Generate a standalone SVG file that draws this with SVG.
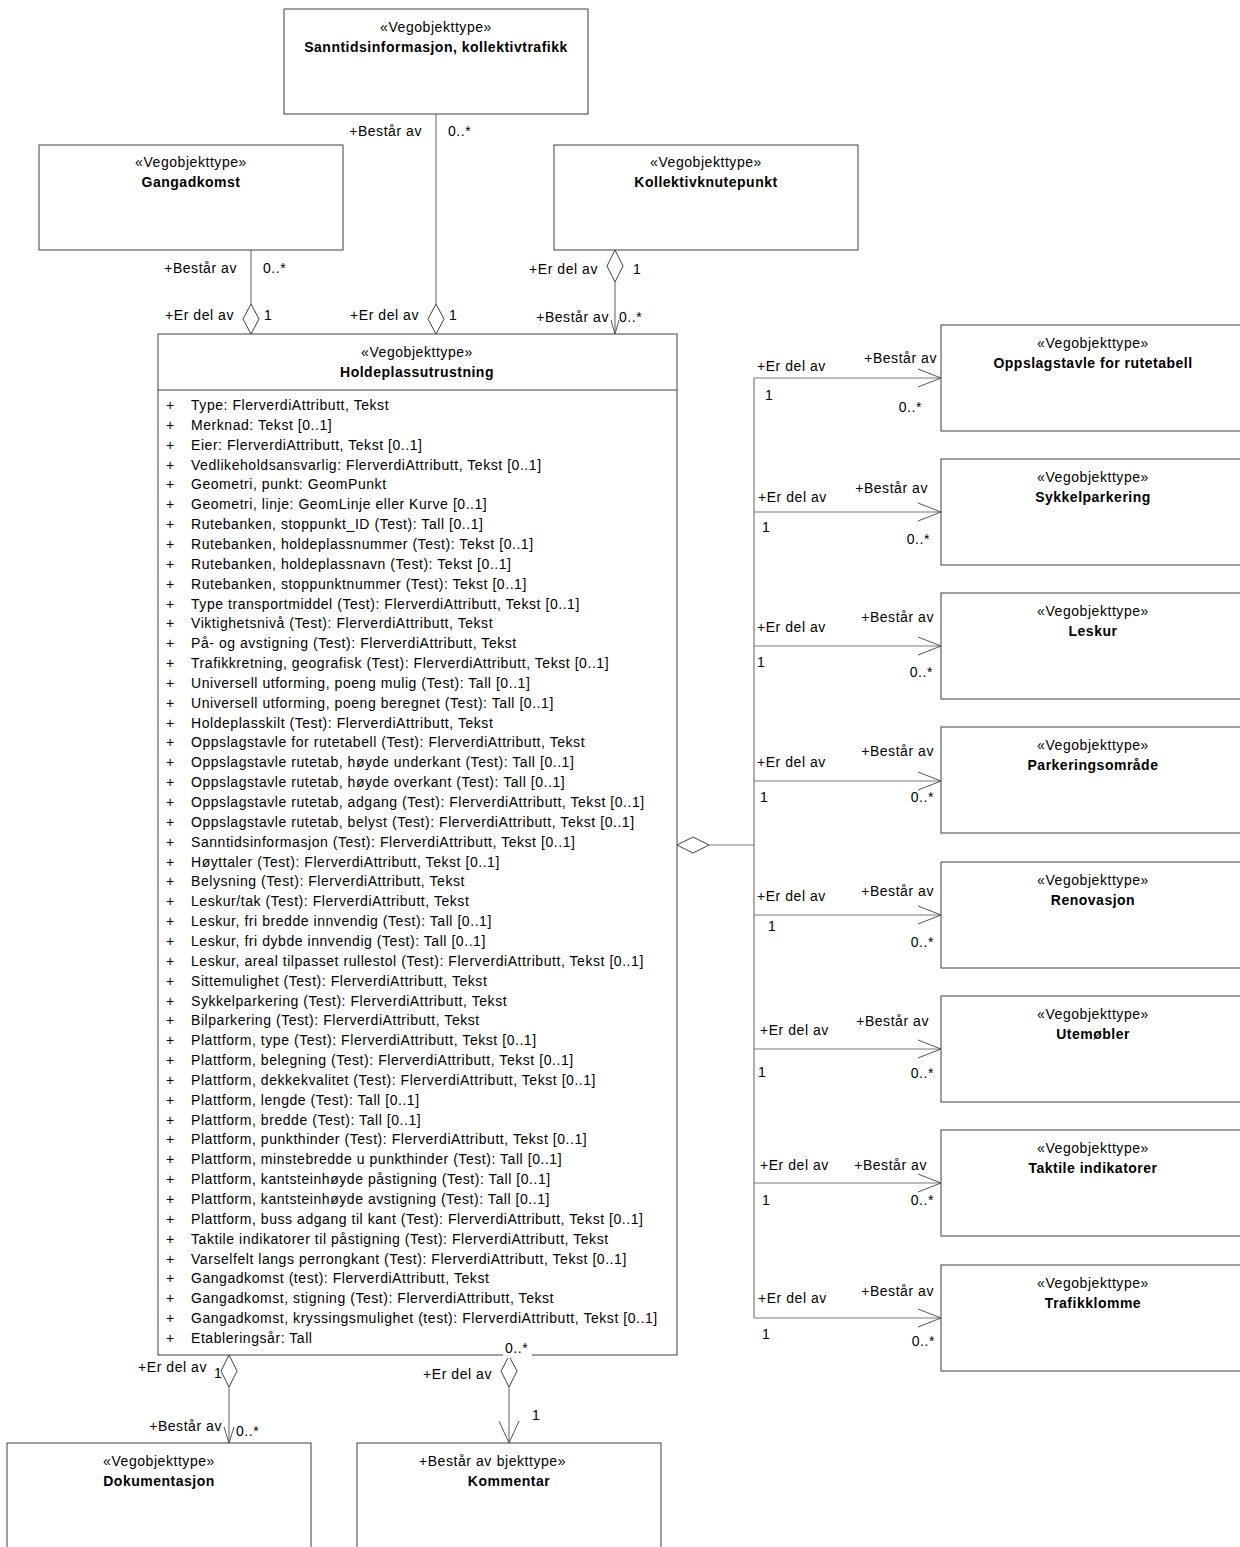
<svg xmlns="http://www.w3.org/2000/svg" width="1240" height="1547" viewBox="0 0 1240 1547">
<defs>
<style>
text{font-family:"Liberation Sans",Arial,sans-serif;font-size:14px;fill:#000;letter-spacing:0.55px}
.st{text-anchor:middle}
.nm{text-anchor:middle;font-weight:bold;letter-spacing:0.5px}
.e{text-anchor:end}
.box{fill:#fff;stroke:#404040;stroke-width:1}
.ln{fill:none;stroke:#7a7a7a;stroke-width:1.2}
.dia{fill:#fff;stroke:#404040;stroke-width:1}
.arr{fill:none;stroke:#555;stroke-width:1}
</style>
</defs>
<rect width="1240" height="1547" fill="#fff"/>

<g id="connectors">
  <line class="ln" x1="436" y1="114" x2="436" y2="304"/>
  <polygon class="dia" points="436,304 444,319 436,334 428,319"/>
  <text class="e" x="422" y="136">+Består av</text>
  <text x="448" y="136">0..*</text>
  <text class="e" x="419" y="320">+Er del av</text>
  <text x="449" y="320">1</text>

  <line class="ln" x1="251" y1="250" x2="251" y2="304"/>
  <polygon class="dia" points="251,304 259,319 251,334 243,319"/>
  <text class="e" x="237" y="273">+Består av</text>
  <text x="263" y="273">0..*</text>
  <text class="e" x="234" y="320">+Er del av</text>
  <text x="264" y="320">1</text>

  <polygon class="dia" points="615,250 623,266 615,282 607,266"/>
  <line class="ln" x1="615" y1="282" x2="615" y2="334"/>
  <polyline class="arr" points="611,320 615,334 619,320"/>
  <text class="e" x="598" y="274">+Er del av</text>
  <text x="633" y="274">1</text>
  <text class="e" x="609" y="322">+Består av</text>
  <text x="619" y="322">0..*</text>

  <polygon class="dia" points="677,845 693,837 709,845 693,853"/>
  <line class="ln" x1="709" y1="845" x2="754" y2="845"/>
  <line class="ln" x1="754" y1="378" x2="754" y2="1318"/>
  <line class="ln" x1="754" y1="378" x2="941" y2="378"/>
  <line class="ln" x1="754" y1="512" x2="941" y2="512"/>
  <line class="ln" x1="754" y1="646" x2="941" y2="646"/>
  <line class="ln" x1="754" y1="781" x2="941" y2="781"/>
  <line class="ln" x1="754" y1="915" x2="941" y2="915"/>
  <line class="ln" x1="754" y1="1049" x2="941" y2="1049"/>
  <line class="ln" x1="754" y1="1183" x2="941" y2="1183"/>
  <line class="ln" x1="754" y1="1318" x2="941" y2="1318"/>
  <polyline class="arr" points="918,369 941,378 918,387"/>
  <polyline class="arr" points="918,503 941,512 918,521"/>
  <polyline class="arr" points="918,637 941,646 918,655"/>
  <polyline class="arr" points="918,772 941,781 918,790"/>
  <polyline class="arr" points="918,906 941,915 918,924"/>
  <polyline class="arr" points="918,1040 941,1049 918,1058"/>
  <polyline class="arr" points="918,1174 941,1183 918,1192"/>
  <polyline class="arr" points="918,1309 941,1318 918,1327"/>

  <text x="757" y="371">+Er del av</text>
  <text class="e" x="937" y="363">+Består av</text>
  <text x="765" y="400">1</text>
  <text class="e" x="922" y="412">0..*</text>

  <text x="758" y="502">+Er del av</text>
  <text class="e" x="928" y="493">+Består av</text>
  <text x="762" y="532">1</text>
  <text class="e" x="930" y="544">0..*</text>

  <text x="757" y="632">+Er del av</text>
  <text class="e" x="934" y="622">+Består av</text>
  <text x="757" y="667">1</text>
  <text class="e" x="933" y="677">0..*</text>

  <text x="757" y="767">+Er del av</text>
  <text class="e" x="934" y="756">+Består av</text>
  <text x="760" y="802">1</text>
  <text class="e" x="934" y="802">0..*</text>

  <text x="757" y="901">+Er del av</text>
  <text class="e" x="934" y="896">+Består av</text>
  <text x="768" y="931">1</text>
  <text class="e" x="934" y="947">0..*</text>

  <text x="760" y="1035">+Er del av</text>
  <text class="e" x="929" y="1026">+Består av</text>
  <text x="758" y="1077">1</text>
  <text class="e" x="934" y="1078">0..*</text>

  <text x="760" y="1170">+Er del av</text>
  <text class="e" x="927" y="1170">+Består av</text>
  <text x="762" y="1205">1</text>
  <text class="e" x="934" y="1205">0..*</text>

  <text x="758" y="1303">+Er del av</text>
  <text class="e" x="934" y="1296">+Består av</text>
  <text x="762" y="1339">1</text>
  <text class="e" x="935" y="1346">0..*</text>

  <polygon class="dia" points="229,1355 237,1371 229,1387 221,1371"/>
  <line class="ln" x1="229" y1="1387" x2="229" y2="1443"/>
  <polyline class="arr" points="224,1427 229,1443 234,1427"/>
  <text class="e" x="207" y="1372">+Er del av</text>
  <text x="214" y="1378">1</text>
  <text class="e" x="222" y="1431">+Består av</text>
  <text x="236" y="1436">0..*</text>

  <polygon class="dia" points="509,1356 517,1371 509,1387 501,1371"/>
  <line class="ln" x1="509" y1="1387" x2="509" y2="1443"/>
  <polyline class="arr" points="499,1421 509,1443 519,1421"/>
  <text class="e" x="492" y="1379">+Er del av</text>
  <text x="532" y="1420">1</text>
</g>

<g id="sanntid">
  <rect class="box" x="284" y="9" width="304" height="105"/>
  <text class="st" x="436" y="32">«Vegobjekttype»</text>
  <text class="nm" x="436" y="52">Sanntidsinformasjon, kollektivtrafikk</text>
</g>

<g id="gangadkomst">
  <rect class="box" x="39" y="145" width="304" height="105"/>
  <text class="st" x="191" y="167">«Vegobjekttype»</text>
  <text class="nm" x="191" y="187">Gangadkomst</text>
</g>

<g id="kollektivknutepunkt">
  <rect class="box" x="554" y="145" width="304" height="105"/>
  <text class="st" x="706" y="167">«Vegobjekttype»</text>
  <text class="nm" x="706" y="187">Kollektivknutepunkt</text>
</g>

<g id="holdeplassutrustning">
  <rect class="box" x="158" y="334" width="519" height="1021"/>
  <line x1="158" y1="390" x2="677" y2="390" stroke="#404040" stroke-width="1"/>
  <text class="st" x="417" y="357">«Vegobjekttype»</text>
  <text class="nm" x="417" y="377">Holdeplassutrustning</text>
  <text x="166" y="410">+<tspan x="166" dy="19.85">+</tspan><tspan x="166" dy="19.85">+</tspan><tspan x="166" dy="19.85">+</tspan><tspan x="166" dy="19.85">+</tspan><tspan x="166" dy="19.85">+</tspan><tspan x="166" dy="19.85">+</tspan><tspan x="166" dy="19.85">+</tspan><tspan x="166" dy="19.85">+</tspan><tspan x="166" dy="19.85">+</tspan><tspan x="166" dy="19.85">+</tspan><tspan x="166" dy="19.85">+</tspan><tspan x="166" dy="19.85">+</tspan><tspan x="166" dy="19.85">+</tspan><tspan x="166" dy="19.85">+</tspan><tspan x="166" dy="19.85">+</tspan><tspan x="166" dy="19.85">+</tspan><tspan x="166" dy="19.85">+</tspan><tspan x="166" dy="19.85">+</tspan><tspan x="166" dy="19.85">+</tspan><tspan x="166" dy="19.85">+</tspan><tspan x="166" dy="19.85">+</tspan><tspan x="166" dy="19.85">+</tspan><tspan x="166" dy="19.85">+</tspan><tspan x="166" dy="19.85">+</tspan><tspan x="166" dy="19.85">+</tspan><tspan x="166" dy="19.85">+</tspan><tspan x="166" dy="19.85">+</tspan><tspan x="166" dy="19.85">+</tspan><tspan x="166" dy="19.85">+</tspan><tspan x="166" dy="19.85">+</tspan><tspan x="166" dy="19.85">+</tspan><tspan x="166" dy="19.85">+</tspan><tspan x="166" dy="19.85">+</tspan><tspan x="166" dy="19.85">+</tspan><tspan x="166" dy="19.85">+</tspan><tspan x="166" dy="19.85">+</tspan><tspan x="166" dy="19.85">+</tspan><tspan x="166" dy="19.85">+</tspan><tspan x="166" dy="19.85">+</tspan><tspan x="166" dy="19.85">+</tspan><tspan x="166" dy="19.85">+</tspan><tspan x="166" dy="19.85">+</tspan><tspan x="166" dy="19.85">+</tspan><tspan x="166" dy="19.85">+</tspan><tspan x="166" dy="19.85">+</tspan><tspan x="166" dy="19.85">+</tspan><tspan x="166" dy="19.85">+</tspan></text>
  <text x="191" y="410">Type: FlerverdiAttributt, Tekst<tspan x="191" dy="19.85">Merknad: Tekst [0..1]</tspan><tspan x="191" dy="19.85">Eier: FlerverdiAttributt, Tekst [0..1]</tspan><tspan x="191" dy="19.85">Vedlikeholdsansvarlig: FlerverdiAttributt, Tekst [0..1]</tspan><tspan x="191" dy="19.85">Geometri, punkt: GeomPunkt</tspan><tspan x="191" dy="19.85">Geometri, linje: GeomLinje eller Kurve [0..1]</tspan><tspan x="191" dy="19.85">Rutebanken, stoppunkt_ID (Test): Tall [0..1]</tspan><tspan x="191" dy="19.85">Rutebanken, holdeplassnummer (Test): Tekst [0..1]</tspan><tspan x="191" dy="19.85">Rutebanken, holdeplassnavn (Test): Tekst [0..1]</tspan><tspan x="191" dy="19.85">Rutebanken, stoppunktnummer (Test): Tekst [0..1]</tspan><tspan x="191" dy="19.85">Type transportmiddel (Test): FlerverdiAttributt, Tekst [0..1]</tspan><tspan x="191" dy="19.85">Viktighetsnivå (Test): FlerverdiAttributt, Tekst</tspan><tspan x="191" dy="19.85">På- og avstigning (Test): FlerverdiAttributt, Tekst</tspan><tspan x="191" dy="19.85">Trafikkretning, geografisk (Test): FlerverdiAttributt, Tekst [0..1]</tspan><tspan x="191" dy="19.85">Universell utforming, poeng mulig (Test): Tall [0..1]</tspan><tspan x="191" dy="19.85">Universell utforming, poeng beregnet (Test): Tall [0..1]</tspan><tspan x="191" dy="19.85">Holdeplasskilt (Test): FlerverdiAttributt, Tekst</tspan><tspan x="191" dy="19.85">Oppslagstavle for rutetabell (Test): FlerverdiAttributt, Tekst</tspan><tspan x="191" dy="19.85">Oppslagstavle rutetab, høyde underkant (Test): Tall [0..1]</tspan><tspan x="191" dy="19.85">Oppslagstavle rutetab, høyde overkant (Test): Tall [0..1]</tspan><tspan x="191" dy="19.85">Oppslagstavle rutetab, adgang (Test): FlerverdiAttributt, Tekst [0..1]</tspan><tspan x="191" dy="19.85">Oppslagstavle rutetab, belyst (Test): FlerverdiAttributt, Tekst [0..1]</tspan><tspan x="191" dy="19.85">Sanntidsinformasjon (Test): FlerverdiAttributt, Tekst [0..1]</tspan><tspan x="191" dy="19.85">Høyttaler (Test): FlerverdiAttributt, Tekst [0..1]</tspan><tspan x="191" dy="19.85">Belysning (Test): FlerverdiAttributt, Tekst</tspan><tspan x="191" dy="19.85">Leskur/tak (Test): FlerverdiAttributt, Tekst</tspan><tspan x="191" dy="19.85">Leskur, fri bredde innvendig (Test): Tall [0..1]</tspan><tspan x="191" dy="19.85">Leskur, fri dybde innvendig (Test): Tall [0..1]</tspan><tspan x="191" dy="19.85">Leskur, areal tilpasset rullestol (Test): FlerverdiAttributt, Tekst [0..1]</tspan><tspan x="191" dy="19.85">Sittemulighet (Test): FlerverdiAttributt, Tekst</tspan><tspan x="191" dy="19.85">Sykkelparkering (Test): FlerverdiAttributt, Tekst</tspan><tspan x="191" dy="19.85">Bilparkering (Test): FlerverdiAttributt, Tekst</tspan><tspan x="191" dy="19.85">Plattform, type (Test): FlerverdiAttributt, Tekst [0..1]</tspan><tspan x="191" dy="19.85">Plattform, belegning (Test): FlerverdiAttributt, Tekst [0..1]</tspan><tspan x="191" dy="19.85">Plattform, dekkekvalitet (Test): FlerverdiAttributt, Tekst [0..1]</tspan><tspan x="191" dy="19.85">Plattform, lengde (Test): Tall [0..1]</tspan><tspan x="191" dy="19.85">Plattform, bredde (Test): Tall [0..1]</tspan><tspan x="191" dy="19.85">Plattform, punkthinder (Test): FlerverdiAttributt, Tekst [0..1]</tspan><tspan x="191" dy="19.85">Plattform, minstebredde u punkthinder (Test): Tall [0..1]</tspan><tspan x="191" dy="19.85">Plattform, kantsteinhøyde påstigning (Test): Tall [0..1]</tspan><tspan x="191" dy="19.85">Plattform, kantsteinhøyde avstigning (Test): Tall [0..1]</tspan><tspan x="191" dy="19.85">Plattform, buss adgang til kant (Test): FlerverdiAttributt, Tekst [0..1]</tspan><tspan x="191" dy="19.85">Taktile indikatorer til påstigning (Test): FlerverdiAttributt, Tekst</tspan><tspan x="191" dy="19.85">Varselfelt langs perrongkant (Test): FlerverdiAttributt, Tekst [0..1]</tspan><tspan x="191" dy="19.85">Gangadkomst (test): FlerverdiAttributt, Tekst</tspan><tspan x="191" dy="19.85">Gangadkomst, stigning (Test): FlerverdiAttributt, Tekst</tspan><tspan x="191" dy="19.85">Gangadkomst, kryssingsmulighet (test): FlerverdiAttributt, Tekst [0..1]</tspan><tspan x="191" dy="19.85">Etableringsår: Tall</tspan></text>
  <rect x="503" y="1340" width="29" height="18" fill="#fff"/>
  <text x="505" y="1353">0..*</text>
</g>

<g id="oppslagstavle">
  <rect class="box" x="941" y="325" width="320" height="106"/>
  <text class="st" x="1093" y="348">«Vegobjekttype»</text>
  <text class="nm" x="1093" y="368">Oppslagstavle for rutetabell</text>
</g>
<g id="sykkelparkering">
  <rect class="box" x="941" y="459" width="320" height="106"/>
  <text class="st" x="1093" y="482">«Vegobjekttype»</text>
  <text class="nm" x="1093" y="502">Sykkelparkering</text>
</g>
<g id="leskur">
  <rect class="box" x="941" y="593" width="320" height="106"/>
  <text class="st" x="1093" y="616">«Vegobjekttype»</text>
  <text class="nm" x="1093" y="636">Leskur</text>
</g>
<g id="parkeringsomrade">
  <rect class="box" x="941" y="727" width="320" height="106"/>
  <text class="st" x="1093" y="750">«Vegobjekttype»</text>
  <text class="nm" x="1093" y="770">Parkeringsområde</text>
</g>
<g id="renovasjon">
  <rect class="box" x="941" y="862" width="320" height="106"/>
  <text class="st" x="1093" y="885">«Vegobjekttype»</text>
  <text class="nm" x="1093" y="905">Renovasjon</text>
</g>
<g id="utemobler">
  <rect class="box" x="941" y="996" width="320" height="106"/>
  <text class="st" x="1093" y="1019">«Vegobjekttype»</text>
  <text class="nm" x="1093" y="1039">Utemøbler</text>
</g>
<g id="taktile">
  <rect class="box" x="941" y="1130" width="320" height="106"/>
  <text class="st" x="1093" y="1153">«Vegobjekttype»</text>
  <text class="nm" x="1093" y="1173">Taktile indikatorer</text>
</g>
<g id="trafikklomme">
  <rect class="box" x="941" y="1265" width="320" height="106"/>
  <text class="st" x="1093" y="1288">«Vegobjekttype»</text>
  <text class="nm" x="1093" y="1308">Trafikklomme</text>
</g>

<g id="dokumentasjon">
  <rect class="box" x="7" y="1443" width="304" height="120"/>
  <text class="st" x="159" y="1466">«Vegobjekttype»</text>
  <text class="nm" x="159" y="1486">Dokumentasjon</text>
</g>
<g id="kommentar">
  <rect class="box" x="357" y="1443" width="304" height="120"/>
  <text x="419" y="1466">+Består av</text>
  <text class="e" x="566" y="1466">bjekttype»</text>
  <text class="nm" x="509" y="1486">Kommentar</text>
</g>
</svg>
